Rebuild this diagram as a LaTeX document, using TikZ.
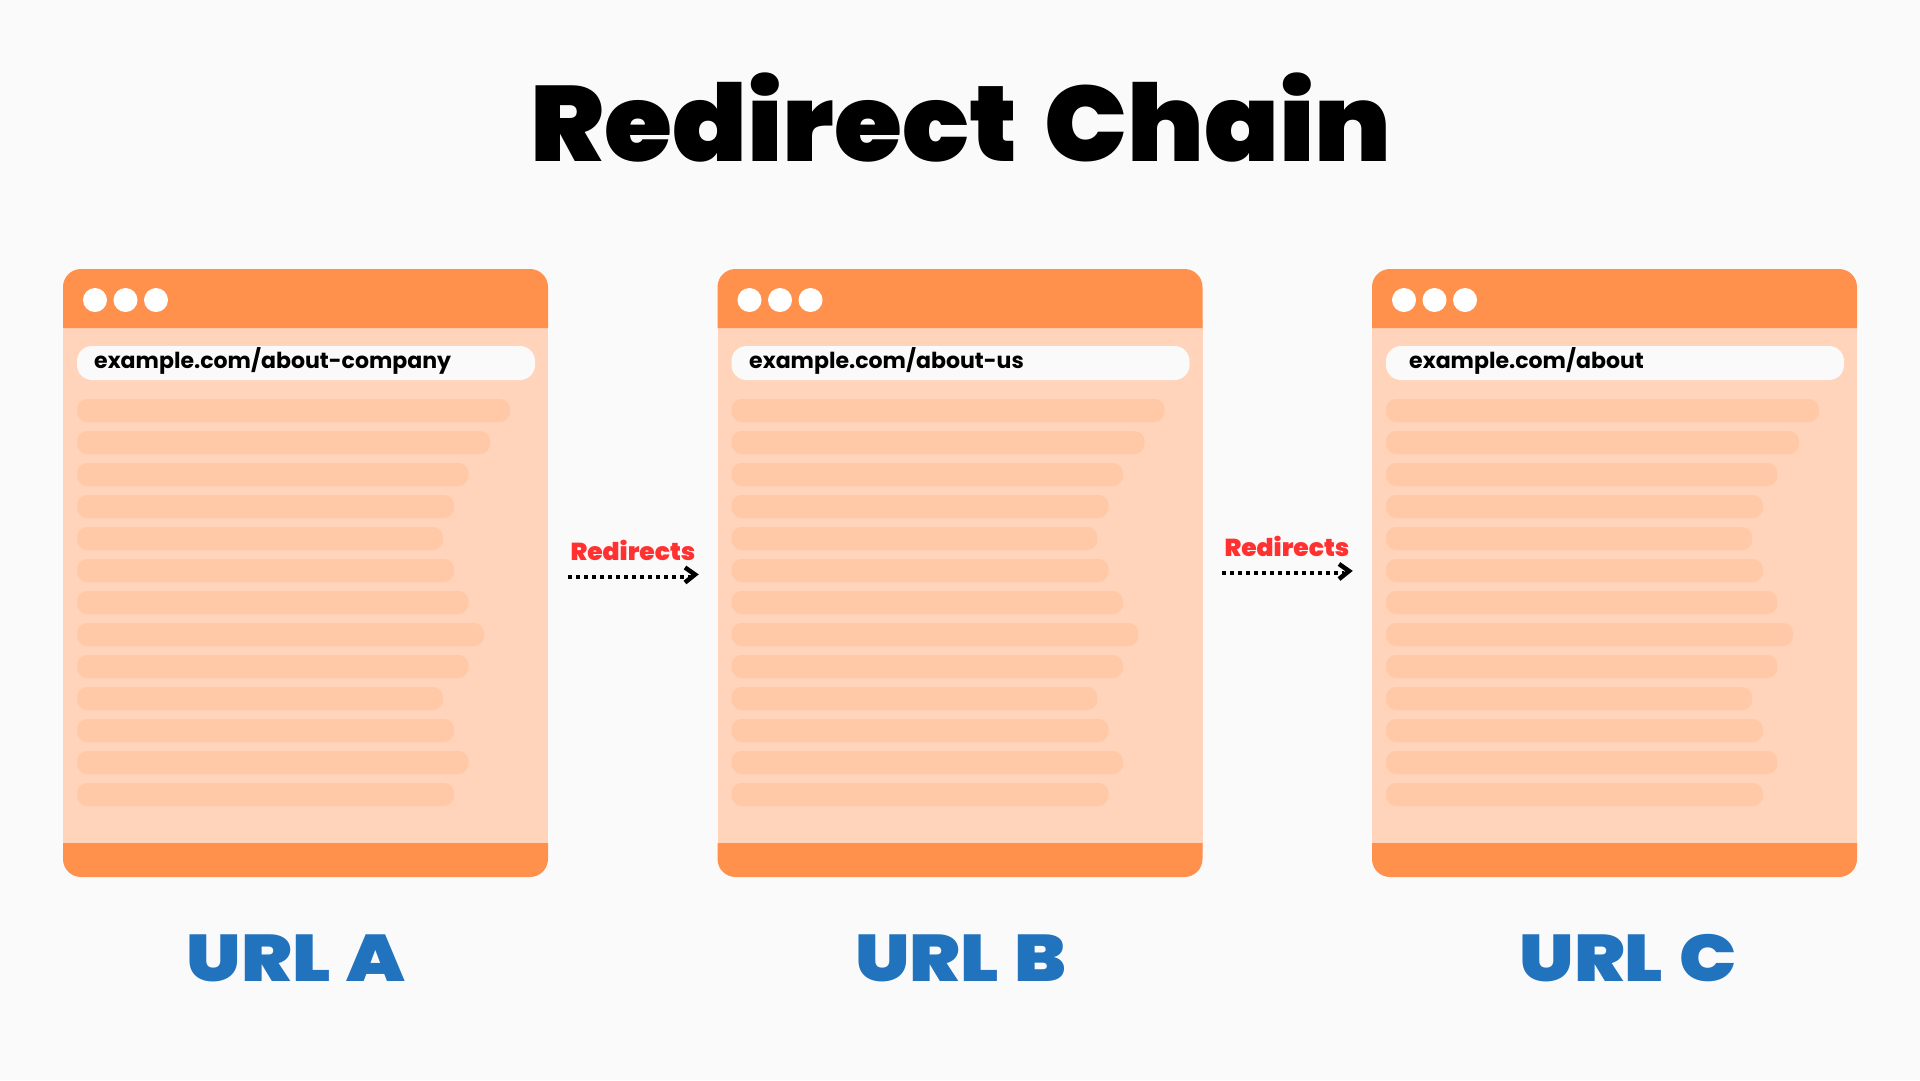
\documentclass[tikz,border=0pt]{standalone}
\usepackage{fontspec}
\setmainfont{Poppins}
\newfontfamily\blkT[FakeStretch=1.03,WordSpace=1.45]{Poppins Black}
\newfontfamily\blkU[FakeStretch=1.15,WordSpace=1.25]{Poppins Black}
\newfontfamily\blkR[FakeStretch=1.02]{Poppins Black}
\newfontfamily\semi{Poppins Bold}
\definecolor{bgc}{HTML}{FAFAFA}
\definecolor{orangeH}{HTML}{FF914D}
\definecolor{paneC}{HTML}{FFD4BA}
\definecolor{lineC}{HTML}{FFC9A8}
\definecolor{blueC}{HTML}{2173BE}
\definecolor{redC}{HTML}{FF3131}
\tikzset{
  x=1pt,y=-1pt,
  titletext/.style={font=\blkT\fontsize{107}{107}\selectfont,anchor=base,inner sep=0pt},
  urltext/.style={font=\blkU\fontsize{66}{66}\selectfont,text=blueC,anchor=base,inner sep=0pt},
  addrtext/.style={font=\semi\fontsize{22.05}{24}\selectfont,anchor=base west,inner sep=0pt},
  redirtext/.style={font=\blkR\fontsize{24.5}{25}\selectfont,text=redC,anchor=base,inner sep=0pt},
  dotarrow/.style={line width=4pt,dash pattern=on 4pt off 4pt,black},
  chevron/.style={line width=4.5pt,black,line join=miter},
}
\newcommand{\browser}[4]{%
  \begin{scope}[shift={(#1,0)}]
    \fill[paneC] (63,320) rectangle (548,850);
    \fill[orangeH] (63,328) {[rounded corners=18pt] -- (63,269) -- (548,269)} -- (548,328) -- cycle;
    \fill[orangeH] (63,843) {[rounded corners=18pt] -- (63,877) -- (548,877)} -- (548,843) -- cycle;
    \fill[white] (95,300) circle[radius=12pt] (125.5,300) circle[radius=12pt] (156,300) circle[radius=12pt];
    \fill[bgc,rounded corners=15pt] (77,346) rectangle (535,380);
    \node[addrtext] (addr#2) at (#3,368) {#4};
    \foreach \r [count=\i from 0] in {510,490,468.5,454,443,454,468.5,484,468.5,443,454,468.5,454}{
      \fill[lineC,rounded corners=10pt] (77,399+32*\i) rectangle (\r,422+32*\i);
    }
  \end{scope}
}
\begin{document}
\begin{tikzpicture}
\useasboundingbox (0,0) rectangle (1920,1080);
\fill[bgc] (0,0) rectangle (1920,1080);
\node[titletext] (title) at (961,161) {Redirect Chain};
\browser{0}{a}{94}{example.com/about-company}
\browser{654.5}{b}{94.5}{example.com/about-us}
\browser{1309}{c}{100}{example.com/about}
\node[urltext] (urla) at (296,981) {URL A};
\node[urltext] (urlb) at (961,981) {URL B};
\node[urltext] (urlc) at (1628,981) {URL C};
\node[redirtext] (r1) at (633,560) {Redirects};
\node[redirtext] (r2) at (1287,556) {Redirects};
\coordinate (a1s) at (568,576.5);
\coordinate (a1e) at (690,576.5);
\coordinate (a2s) at (1222,573);
\coordinate (a2e) at (1344,573);
\draw[dotarrow] (a1s) -- (a1e);
\draw[chevron] ([shift={(-5,-9)}]a1e) -- ([shift={(5,-2)}]a1e) -- ([shift={(-5,6)}]a1e);
\draw[dotarrow] (a2s) -- (a2e);
\draw[chevron] ([shift={(-5,-9)}]a2e) -- ([shift={(5,-2)}]a2e) -- ([shift={(-5,6)}]a2e);
\end{tikzpicture}
\end{document}
